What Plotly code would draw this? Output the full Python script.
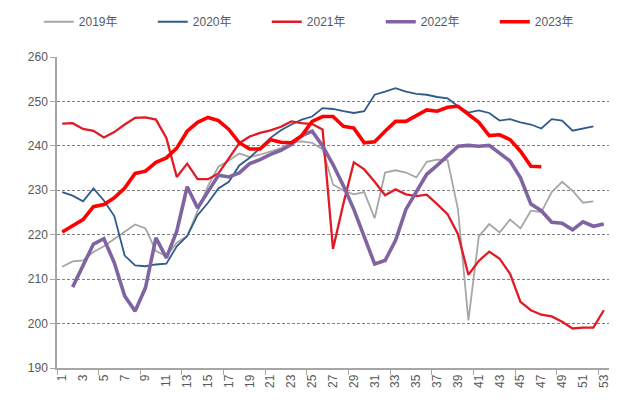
import plotly.graph_objects as go

weeks = list(range(1, 54))

y2019 = [212.8, 214.0, 214.2, 216.1, 217.4, 219.1, 220.8, 222.3, 221.4, 216.3,
         215.2, 218.2, 219.7, 225.5, 231.0, 235.3, 236.7, 238.3, 237.5, 238.0,
         238.7, 239.5, 240.8, 241.0, 240.7, 239.2, 231.3, 229.9, 229.1, 229.6,
         223.7, 234.0, 234.5, 234.0, 232.9, 236.4, 236.9, 236.8, 225.7, 200.7,
         219.6, 222.4, 220.5, 223.4, 221.4, 225.4, 225.1, 229.6, 231.9, 229.9,
         227.2, 227.5]

y2020 = [229.6, 228.8, 227.5, 230.4, 227.7, 224.2, 215.3, 213.1, 212.9, 213.3,
         213.5, 217.4, 219.7, 224.4, 227.2, 230.4, 231.9, 235.6, 237.3, 239.6,
         241.8, 243.5, 244.8, 245.9, 246.6, 248.5, 248.3, 247.8, 247.4, 247.8,
         251.5, 252.2, 253.0, 252.2, 251.7, 251.5, 251.0, 250.7, 248.9, 247.5,
         248.0, 247.4, 245.7, 246.0, 245.3, 244.8, 243.9, 246.0, 245.7, 243.4,
         243.9, 244.4]

y2021 = [245.0, 245.1, 243.8, 243.4, 241.9, 243.1, 244.8, 246.3, 246.4, 245.9,
         241.8, 233.0, 236.0, 232.5, 232.5, 233.8, 237.2, 240.6, 242.1, 242.9,
         243.5, 244.3, 245.5, 245.1, 244.9, 243.7, 216.8, 227.0, 236.3, 234.7,
         231.9, 228.9, 230.2, 229.1, 228.7, 229.0, 226.9, 224.6, 220.1, 211.0,
         214.1, 216.2, 214.6, 211.2, 204.9, 203.0, 202.0, 201.6, 200.4, 198.9,
         199.1, 199.1, 203.0]

y2022 = [None, 208.2, 212.9, 217.9, 219.1, 213.7, 206.2, 202.8, 208.1, 219.3,
         214.8, 220.8, 230.8, 226.0, 229.7, 233.4, 233.0, 233.9, 236.0, 236.9,
         238.1, 239.0, 240.3, 242.3, 243.3, 240.0, 235.8, 231.0, 225.7, 219.8,
         213.4, 214.2, 218.7, 225.7, 229.5, 233.6, 235.6, 237.7, 239.9, 240.1,
         239.9, 240.1, 238.4, 236.6, 232.8, 226.9, 225.4, 222.8, 222.6, 221.1,
         222.9, 221.9, 222.4]

y2023 = [220.6, 221.9, 223.4, 226.3, 226.8, 228.3, 230.5, 233.8, 234.3, 236.3,
         237.3, 239.5, 243.3, 245.3, 246.4, 245.7, 243.7, 240.7, 239.3, 239.3,
         241.4, 240.8, 240.7, 242.3, 245.5, 246.6, 246.6, 244.4, 244.0, 240.7,
         240.9, 243.3, 245.5, 245.5, 246.8, 248.1, 247.8, 248.7, 248.9, 247.0,
         245.3, 242.3, 242.5, 241.4, 238.8, 235.4, 235.3]

series = [
    ("2019年", y2019, "#A6A6A6", 1.8),
    ("2020年", y2020, "#2F5B8C", 1.8),
    ("2021年", y2021, "#E01B24", 2.3),
    ("2022年", y2022, "#8064A2", 3.6),
    ("2023年", y2023, "#FF0000", 3.6),
]

fig = go.Figure()
for name, vals, color, width in series:
    fig.add_trace(
        go.Scatter(
            x=weeks[: len(vals)],
            y=vals,
            mode="lines",
            name=name,
            line=dict(color=color, width=width),
        )
    )

axis_font = dict(family="Liberation Sans, Noto Sans CJK SC", size=12, color="#595959")

# page body has an 8px margin, so the figure is 8px smaller each way
fig.update_layout(
    width=610,
    height=395,
    margin=dict(l=49, r=9, t=49, b=35, autoexpand=False),
    paper_bgcolor="white",
    plot_bgcolor="white",
    font=axis_font,
    legend=dict(
        orientation="h",
        x=-0.033,
        xanchor="left",
        y=1.16,
        yanchor="top",
        entrywidth=69,
        entrywidthmode="pixels",
        font=dict(family="Liberation Sans, Noto Sans CJK SC", size=12, color="#595959"),
        itemwidth=30,
        bgcolor="rgba(0,0,0,0)",
    ),
    xaxis=dict(
        range=[0.5, 53.5],
        tickmode="array",
        tickvals=list(range(1, 54, 2)),
        tickangle=-90,
        ticks="",
        showgrid=False,
        showline=True,
        linecolor="#A6A6A6",
        linewidth=1.5,
        zeroline=False,
        automargin=False,
        minor=dict(tick0=0.5, dtick=4, ticks="outside", ticklen=5,
                   tickcolor="#A6A6A6", showgrid=False),
    ),
    yaxis=dict(
        range=[190, 260],
        dtick=10,
        ticks="outside",
        ticklen=5,
        tickcolor="#A6A6A6",
        showline=True,
        linecolor="#A6A6A6",
        linewidth=1.5,
        showgrid=True,
        gridcolor="#7F7F7F",
        griddash="3px,2px",
        gridwidth=1,
        zeroline=False,
        automargin=False,
    ),
)

fig.write_html("out.html")
